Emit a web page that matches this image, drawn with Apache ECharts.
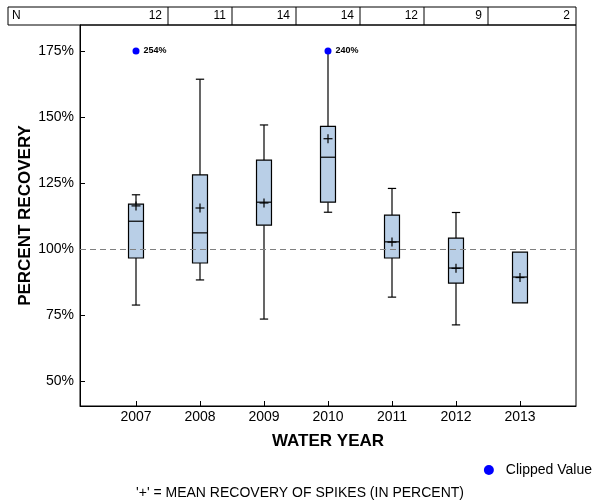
<!DOCTYPE html>
<html>
<head>
<meta charset="utf-8">
<script src="https://cdn.jsdelivr.net/npm/echarts@6/dist/echarts.min.js"></script>
<style>html,body{margin:0;padding:0;background:#fff}#c{width:600px;height:500px}</style>
</head>
<body>
<div id="c"></div>
<script>
// ---- data ----
var years     = [2007, 2008, 2009, 2010, 2011, 2012, 2013];
var counts    = [12, 11, 14, 14, 12, 9, 2];
var whiskLow  = [78.9, 88.4, 73.6, 114.0, 81.9, 71.4, 79.7];
var q1        = [96.7, 94.8, 109.1, 117.8, 96.7, 87.2, 79.7];
var medians   = [110.6, 106.2, 117.8, 134.8, 102.8, 92.9, 89.5];
var q3        = [117.1, 128.1, 133.7, 146.5, 112.9, 104.2, 98.9];
var whiskHigh = [120.6, 164.3, 147.0, 175.0, 123.0, 113.9, 98.9];
var means     = [116.4, 115.6, 117.5, 141.8, 102.7, 92.8, 89.3];
var clipYears  = [2007, 2010];
var clipActual = [254, 240];
var clipLimit  = 175;
var yTicks = [50, 75, 100, 125, 150, 175];
var refValue = 100;

var FONT = '"Liberation Sans", Arial, sans-serif';
var boxData = years.map(function (y, i) {
  return [y, whiskLow[i], q1[i], medians[i], q3[i], whiskHigh[i], means[i]];
});
var clipData = clipYears.map(function (y) { return [y, clipLimit]; });

var chart = echarts.init(document.getElementById('c'), null, {renderer: 'canvas'});

function renderBox(params, api) {
  var x = api.value(0);
  var pLow = api.coord([x, api.value(1)]);
  var pQ1 = api.coord([x, api.value(2)]);
  var pMed = api.coord([x, api.value(3)]);
  var pQ3 = api.coord([x, api.value(4)]);
  var pHigh = api.coord([x, api.value(5)]);
  var pMean = api.coord([x, api.value(6)]);
  var hw = api.size([0.234, 0])[0] / 2;
  var cw = api.size([0.13, 0])[0] / 2;
  var cx = pMed[0];
  var ls = {stroke: '#000', lineWidth: 1.2};
  var ch = [];
  ch.push({type: 'line', shape: {x1: cx, y1: pQ3[1], x2: cx, y2: pHigh[1]}, style: ls});
  ch.push({type: 'line', shape: {x1: cx, y1: pQ1[1], x2: cx, y2: pLow[1]}, style: ls});
  if (api.value(5) < clipLimit && api.value(5) > api.value(4)) {
    ch.push({type: 'line', shape: {x1: cx - cw, y1: pHigh[1], x2: cx + cw, y2: pHigh[1]}, style: ls});
  }
  if (api.value(1) < api.value(2)) {
    ch.push({type: 'line', shape: {x1: cx - cw, y1: pLow[1], x2: cx + cw, y2: pLow[1]}, style: ls});
  }
  ch.push({type: 'rect', shape: {x: cx - hw, y: pQ3[1], width: hw * 2, height: pQ1[1] - pQ3[1]},
    style: {fill: '#b9cfe7', stroke: '#000', lineWidth: 1.2}});
  ch.push({type: 'line', shape: {x1: cx - hw, y1: pMed[1], x2: cx + hw, y2: pMed[1]}, style: ls});
  ch.push({type: 'line', shape: {x1: cx - 4.5, y1: pMean[1], x2: cx + 4.5, y2: pMean[1]}, style: ls});
  ch.push({type: 'line', shape: {x1: cx, y1: pMean[1] - 4.5, x2: cx, y2: pMean[1] + 4.5}, style: ls});
  return {type: 'group', children: ch};
}

chart.setOption({
  animation: false,
  textStyle: {fontFamily: FONT, color: '#000'},
  title: {
    text: "'+' = MEAN RECOVERY OF SPIKES (IN PERCENT)",
    left: 'center', top: 481,
    textStyle: {fontSize: 14, fontWeight: 'normal', color: '#000', fontFamily: FONT}
  },
  legend: {
    data: [{name: 'Clipped Value', icon: 'circle', itemStyle: {color: '#0000ff', opacity: 1}}],
    right: 3, top: 458,
    itemWidth: 24, itemHeight: 10, itemGap: 6,
    textStyle: {fontSize: 14, color: '#000', fontFamily: FONT}
  },
  grid: {left: 80, right: 24, top: 25, bottom: 94, show: true, borderColor: '#000', borderWidth: 1},
  xAxis: {
    type: 'value', min: 2006.125, max: 2013.875,
    name: 'WATER YEAR', nameLocation: 'middle', nameGap: 27, nameMoveOverlap: false,
    nameTextStyle: {fontSize: 17, fontWeight: 'bold', color: '#000', fontFamily: FONT},
    axisLine: {show: true, lineStyle: {color: '#000', width: 1}},
    axisTick: {show: true, inside: true, length: 5, customValues: years, lineStyle: {color: '#000'}},
    axisLabel: {customValues: years, fontSize: 14, color: '#000', margin: 4, formatter: function (v) { return String(v); }},
    splitLine: {show: false}
  },
  yAxis: {
    type: 'value', min: 40.73, max: 184.8,
    name: 'PERCENT RECOVERY', nameLocation: 'middle', nameGap: 46, nameMoveOverlap: false,
    nameTextStyle: {fontSize: 17, fontWeight: 'bold', color: '#000', fontFamily: FONT},
    axisLine: {show: true, lineStyle: {color: '#000', width: 1}},
    axisTick: {show: true, inside: true, length: 5, customValues: yTicks, lineStyle: {color: '#000'}},
    axisLabel: {customValues: yTicks, fontSize: 14, color: '#000', margin: 6, formatter: function (v) { return v + '%'; }},
    splitLine: {show: false}
  },
  series: [
    {
      type: 'custom', name: 'Boxes', renderItem: renderBox, data: boxData, z: 3,
      encode: {x: 0, y: [1, 2, 3, 4, 5, 6]}
    },
    {
      type: 'scatter', name: 'Clipped Value', data: clipData, symbol: 'circle', symbolSize: 7, z: 5,
      itemStyle: {color: '#0000ff', opacity: 1},
      label: {
        show: true, position: 'right', distance: 4, fontSize: 9, color: '#000', fontFamily: FONT,
        fontWeight: 'bold',
        formatter: function (p) { return clipActual[p.dataIndex] + '%'; }
      },
      markLine: {
        silent: true, symbol: 'none', label: {show: false},
        lineStyle: {color: '#808080', type: [6, 4], width: 1},
        data: [{yAxis: refValue}]
      }
    }
  ]
});

// ---- N table above plot ----
var tTop = 7, tBot = 25, tLeft = 8, tRight = 576;
var g = [];
g.push({type: 'rect', shape: {x: tLeft, y: tTop, width: tRight - tLeft, height: tBot - tTop},
  style: {fill: 'none', stroke: '#000', lineWidth: 1}, silent: true});
g.push({type: 'text', style: {text: 'N', x: tLeft + 4, y: (tTop + tBot) / 2, verticalAlign: 'middle',
  fontSize: 12, fontFamily: FONT, fill: '#000'}});
var edges = [];
for (var i = 0; i < years.length - 1; i++) {
  edges.push(chart.convertToPixel({xAxisIndex: 0}, years[i] + 0.5));
}
edges.forEach(function (ex) {
  g.push({type: 'line', shape: {x1: ex, y1: tTop, x2: ex, y2: tBot}, style: {stroke: '#000', lineWidth: 1}});
});
counts.forEach(function (n, i) {
  var right = i < edges.length ? edges[i] : tRight;
  g.push({type: 'text', style: {text: String(n), x: right - 6, y: (tTop + tBot) / 2, align: 'right',
    verticalAlign: 'middle', fontSize: 12, fontFamily: FONT, fill: '#000'}});
});
chart.setOption({graphic: g});
</script>
</body>
</html>
